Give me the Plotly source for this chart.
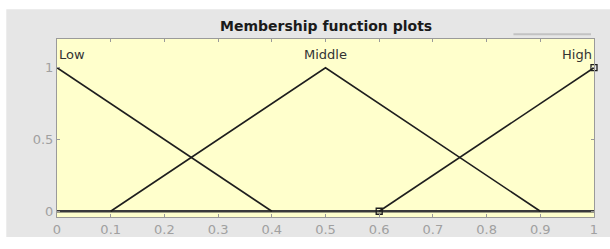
import plotly.graph_objects as go

# Membership functions (triangular), input range [0, 1]
mf_names = ["Low", "Middle", "High"]
low_x = [0.0, 0.0, 0.4]
low_y = [1.0, 1.0, 0.0]
mid_x = [0.1, 0.5, 0.9]
mid_y = [0.0, 1.0, 0.0]
high_x = [0.6, 1.0, 1.0]
high_y = [0.0, 1.0, 1.0]
base_x = [0.0, 1.0]
base_y = [0.0, 0.0]
label_x = [0.0, 0.5, 1.0]
label_y = [1.09, 1.09, 1.09]
label_anchor = ["left", "center", "right"]
x_ticks = [0, 0.1, 0.2, 0.3, 0.4, 0.5, 0.6, 0.7, 0.8, 0.9, 1]
x_tick_text = ["0", "0.1", "0.2", "0.3", "0.4", "0.5", "0.6", "0.7", "0.8", "0.9", "1"]
y_ticks = [0, 0.5, 1]
y_tick_text = ["0", "0.5", "1"]
handle_x = [0.6, 1.0]
handle_y = [0.0, 1.0]

line_col = "#1e1e1e"
fig = go.Figure()
fig.add_trace(go.Scatter(x=base_x, y=base_y, mode="lines",
                         line=dict(color="#3a3a3a", width=2.6), hoverinfo="skip"))
for xs, ys in [(low_x, low_y), (mid_x, mid_y), (high_x, high_y)]:
    fig.add_trace(go.Scatter(x=xs, y=ys, mode="lines",
                             line=dict(color=line_col, width=1.6), hoverinfo="skip"))
fig.add_trace(go.Scatter(x=handle_x, y=handle_y, mode="markers",
                         marker=dict(symbol="square-open", size=6,
                                     color=line_col, line=dict(width=1.3)),
                         cliponaxis=False, hoverinfo="skip"))

for name, lx, ly, anc in zip(mf_names, label_x, label_y, label_anchor):
    fig.add_annotation(x=lx, y=ly, text=name, showarrow=False,
                       xanchor=anc, yanchor="middle",
                       font=dict(family="DejaVu Sans", size=13, color="#333333"))

fig.add_annotation(x=0.5, y=1.0, xref="paper", yref="paper",
                   text="<b>Membership function plots</b>", showarrow=False,
                   xanchor="center", yanchor="bottom", yshift=3,
                   font=dict(family="DejaVu Sans", size=14, color="#1a1a1a"))

shapes = [
    # white page edges around the gray figure panel
    dict(type="rect", xref="paper", yref="paper", x0=-0.2, x1=1.2,
         y0=1.1667, y1=1.3, fillcolor="white", line=dict(width=0), layer="below"),
    dict(type="rect", xref="paper", yref="paper", x0=-0.2, x1=-0.0944,
         y0=-0.3, y1=1.3, fillcolor="white", line=dict(width=0), layer="below"),
    dict(type="rect", xref="paper", yref="paper", x0=-0.2, x1=1.2,
         y0=-0.3, y1=-0.1129, fillcolor="white", line=dict(width=0), layer="below"),
    # thin gray bar top right
    dict(type="line", xref="paper", yref="paper", x0=0.85, x1=0.9944,
         y0=1.027, y1=1.027, line=dict(color="#c2c2c2", width=2)),
]

fig.update_layout(
    width=610, height=249,
    margin=dict(l=57, r=13, t=39, b=24, pad=0),
    paper_bgcolor="#e6e6e6",
    plot_bgcolor="#ffffcc",
    showlegend=False,
    shapes=shapes,
    font=dict(family="DejaVu Sans"),
)
fig.update_xaxes(range=[0, 1], tickvals=x_ticks, ticktext=x_tick_text,
                 showgrid=False, zeroline=False, showline=True, linecolor="#9a9a9a",
                 linewidth=1, mirror="ticks", ticks="inside", ticklen=3,
                 tickcolor="#9a9a9a", tickfont=dict(size=13, color="#a0a0a0"))
fig.update_yaxes(range=[-0.04, 1.2], tickvals=y_ticks, ticktext=y_tick_text,
                 showgrid=False, zeroline=False, showline=True, linecolor="#9a9a9a",
                 linewidth=1, mirror="ticks", ticks="inside", ticklen=3,
                 tickcolor="#9a9a9a", tickfont=dict(size=13, color="#a0a0a0"))

fig.write_html("out.html", config={"displayModeBar": False},
               post_script="document.body.style.margin='0';"
                           "document.body.style.overflow='hidden';")
